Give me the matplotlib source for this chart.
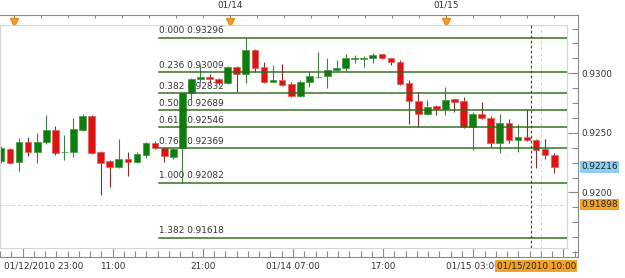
import numpy as np
import matplotlib
matplotlib.use("Agg")
import matplotlib.pyplot as plt
from matplotlib.patches import Rectangle

# hourly candles, x = hours from 01/14 00:00
start_hour = -25
opens = [0.92264, 0.92365, 0.92256, 0.92423, 0.92340, 0.92423, 0.92524, 0.92336, 0.92340, 0.92524,
         0.92642, 0.92340, 0.92264, 0.92214, 0.92281, 0.92256, 0.92314, 0.92415, 0.92373, 0.92298,
         0.92373, 0.92835, 0.92952, 0.92969, 0.92952, 0.92918, 0.93053, 0.92994, 0.93195, 0.93053,
         0.92927, 0.92944, 0.92910, 0.92809, 0.92927, 0.92969, 0.92977, 0.93028, 0.93044, 0.93124,
         0.93124, 0.93131, 0.93159, 0.93126, 0.93095, 0.92916, 0.92770, 0.92658, 0.92726, 0.92698,
         0.92782, 0.92767, 0.92547, 0.92658, 0.92627, 0.92418, 0.92583, 0.92440, 0.92468, 0.92440,
         0.92362, 0.92314]
highs = [0.92390, 0.92373, 0.92457, 0.92465, 0.92499, 0.92650, 0.92558, 0.92482, 0.92625, 0.92658,
         0.92650, 0.92348, 0.92272, 0.92449, 0.92340, 0.92340, 0.92423, 0.92432, 0.92382, 0.92373,
         0.92843, 0.92960, 0.93070, 0.92994, 0.92960, 0.93061, 0.93061, 0.93296, 0.93204, 0.93095,
         0.93070, 0.93078, 0.92927, 0.92944, 0.93019, 0.93179, 0.93128, 0.93111, 0.93162, 0.93153,
         0.93145, 0.93170, 0.93162, 0.93128, 0.93111, 0.92944, 0.92845, 0.92780, 0.92734, 0.92882,
         0.92784, 0.92804, 0.92673, 0.92757, 0.92642, 0.92658, 0.92614, 0.92574, 0.92700, 0.92449,
         0.92449, 0.92334]
lows = [0.92247, 0.92239, 0.92180, 0.92306, 0.92247, 0.92407, 0.92314, 0.92272, 0.92298, 0.92516,
        0.92323, 0.91979, 0.92046, 0.92205, 0.92138, 0.92247, 0.92289, 0.92365, 0.92256, 0.92281,
        0.92082, 0.92751, 0.92918, 0.92918, 0.92902, 0.92910, 0.92843, 0.92918, 0.93011, 0.92918,
        0.92923, 0.92893, 0.92801, 0.92801, 0.92885, 0.92960, 0.92877, 0.93019, 0.93019, 0.93086,
        0.93053, 0.93086, 0.93120, 0.93070, 0.92902, 0.92574, 0.92547, 0.92650, 0.92650, 0.92650,
        0.92673, 0.92541, 0.92356, 0.92616, 0.92384, 0.92331, 0.92418, 0.92342, 0.92436, 0.92203,
        0.92281, 0.92161]
closes = [0.92373, 0.92247, 0.92423, 0.92340, 0.92423, 0.92524, 0.92331, 0.92340, 0.92533, 0.92642,
          0.92331, 0.92247, 0.92214, 0.92281, 0.92256, 0.92323, 0.92415, 0.92373, 0.92306, 0.92365,
          0.92835, 0.92952, 0.92969, 0.92948, 0.92918, 0.93053, 0.92994, 0.93195, 0.93044, 0.92927,
          0.92944, 0.92902, 0.92809, 0.92927, 0.92977, 0.92973, 0.93028, 0.93044, 0.93128, 0.93128,
          0.93128, 0.93153, 0.93126, 0.93092, 0.92910, 0.92770, 0.92658, 0.92721, 0.92698, 0.92776,
          0.92762, 0.92547, 0.92656, 0.92622, 0.92418, 0.92583, 0.92440, 0.92468, 0.92440, 0.92356,
          0.92314, 0.92216]

fib_ratios = ["0.000", "0.236", "0.382", "0.500", "0.618", "0.764", "1.000", "1.382"]
fib_prices = [0.93296, 0.93009, 0.92832, 0.92689, 0.92546, 0.92369, 0.92082, 0.91618]
fib_start = -7.54

price_ticks = [0.9200, 0.9250, 0.9300]
last_price = 0.92216
cursor_price = 0.91898
cursor_hour = 34.5
marker_hour = 33.45

day_hours = [-24, 0, 24]
day_labels = ["", "01/14", "01/15"]
bottom_hours = [-25, -13, -3, 7, 17, 27]
bottom_labels = ["01/12/2010 23:00", "11:00", "21:00", "01/14 07:00", "17:00", "01/15 03:00"]
cursor_label = "01/15/2010 10:00"

GREEN, GREEN_EDGE, GREEN_WICK = "#0d7d0d", "#3c963c", "#3f7f3f"
RED, RED_EDGE, RED_WICK = "#dd1414", "#e65a5a", "#8e2a2a"
FIB = "#2c6a1c"
AXC = "#8a8a8a"
FS = 6.4

W, H = 625, 278
fig = plt.figure(figsize=(W / 100, H / 100), dpi=100)
fig.patch.set_facecolor("white")

def px_box(x0, y0, x1, y1):
    return [x0 / W, 1 - y1 / H, (x1 - x0) / W, (y1 - y0) / H]

# outer frame: top date strip, right price axis, bottom time axis
outer = fig.add_axes(px_box(0, 15, 578, 257))
outer.set_xlim(-25.10, 38.62)
outer.set_ylim(0.914586, 0.934890)
outer.spines["left"].set_visible(False)
for s in ("top", "right", "bottom"):
    outer.spines[s].set_color(AXC)
    outer.spines[s].set_linewidth(0.8)
outer.yaxis.tick_right()
outer.set_yticks(price_ticks)
outer.set_yticklabels([f"{p:.4f}" for p in price_ticks])
outer.set_yticks(np.arange(0.915, 0.9345, 0.00125), minor=True)
outer.tick_params(axis="y", which="major", direction="in", length=7.2, width=0.8,
                  color=AXC, labelsize=FS, labelcolor="#333333", pad=2.6)
outer.tick_params(axis="y", which="minor", direction="in", length=4.2, width=0.8, color=AXC)
outer.set_xticks([])
outer.set_xticks(np.arange(-23, 38, 10), minor=False)
outer.set_xticks(np.arange(-25.5, 38.5, 1.25), minor=True)
outer.tick_params(axis="x", which="major", direction="in", length=6.5, width=0.8,
                  color=AXC, labelbottom=False)
outer.tick_params(axis="x", which="minor", direction="in", length=4, width=0.8, color=AXC)
# top 3-hour ticks
top_ticks = np.arange(-24, 38, 3)
outer.vlines(top_ticks, 0.934890 - 0.00025, 0.934890, color=AXC, lw=0.8, clip_on=False)

for h, lab in zip(day_hours, day_labels):
    outer.plot(h, 0.934890 - 0.00055, marker="v", ms=5.5, color="#f0a02a",
               mec="#e08a10", clip_on=False, zorder=5)
    if lab:
        outer.text(h, 0.934890 + 0.0005, lab, ha="center", va="bottom", fontsize=FS,
                   color="#333333")

for h, lab in zip(bottom_hours, bottom_labels):
    if h == bottom_hours[0]:
        outer.text(-25.10, 0.914586 - 0.0004, lab, ha="left", va="top", fontsize=FS,
                   color="#333333")
    else:
        outer.text(h, 0.914586 - 0.0004, lab, ha="center", va="top", fontsize=FS,
                   color="#333333")
outer.text(cursor_hour - 0.5, 0.914586 - 0.0004, cursor_label, ha="center", va="top",
           fontsize=FS, color="#222222", zorder=6,
           bbox=dict(boxstyle="square,pad=0.15", fc="#f5a327", ec="none"))

# price flags on the right axis
outer.text(1.005, (last_price - 0.914586) / (0.934890 - 0.914586), f"{last_price:.5f}",
           transform=outer.transAxes, ha="left", va="center", fontsize=FS, color="#222222",
           bbox=dict(boxstyle="square,pad=0.15", fc="#8fd0f2", ec="none"), clip_on=False)
outer.text(1.005, (cursor_price - 0.914586) / (0.934890 - 0.914586), f"{cursor_price:.5f}",
           transform=outer.transAxes, ha="left", va="center", fontsize=FS, color="#222222",
           bbox=dict(boxstyle="square,pad=0.15", fc="#f5a327", ec="none"), clip_on=False)

# main plot area
ax = fig.add_axes(px_box(0, 25, 567, 248))
ax.set_xlim(-25.10, 37.41)
ax.set_ylim(0.915341, 0.934051)
ax.set_xticks([])
ax.set_yticks([])
for s in ax.spines.values():
    s.set_color("#d4d4d4")
    s.set_linewidth(0.8)

hours = np.arange(start_hour, start_hour + len(opens))
bw = 0.74
for h, o, hi, lo, c in zip(hours, opens, highs, lows, closes):
    up = c >= o
    ax.vlines(h, lo, hi, color=GREEN_WICK if up else RED_WICK, lw=0.8, zorder=2)
    body = max(abs(c - o), 0.00003)
    ax.add_patch(Rectangle((h - bw / 2, min(o, c)), bw, body,
                           fc=GREEN if up else RED, ec=GREEN_EDGE if up else RED_EDGE,
                           lw=0.5, zorder=2.5))

for r, p in zip(fib_ratios, fib_prices):
    ax.plot([fib_start, 37.41], [p, p], color=FIB, lw=1.1, zorder=3, alpha=0.95)
    ax.text(fib_start, p + 0.00022, f"{r} {p:.5f}", ha="left", va="bottom",
            fontsize=FS, color="#333333", zorder=1)

ax.axhline(cursor_price, color="#cfcfcf", lw=0.7, ls=(0, (3, 3)), zorder=1)
ax.axvline(cursor_hour, color="#cfcfcf", lw=0.7, ls=(0, (3, 3)), zorder=1)
ax.axvline(marker_hour, color="#8b1c1c", lw=0.8, ls=(0, (2.5, 2)), zorder=4)

fig.savefig("out.png", dpi=100, facecolor="white")
